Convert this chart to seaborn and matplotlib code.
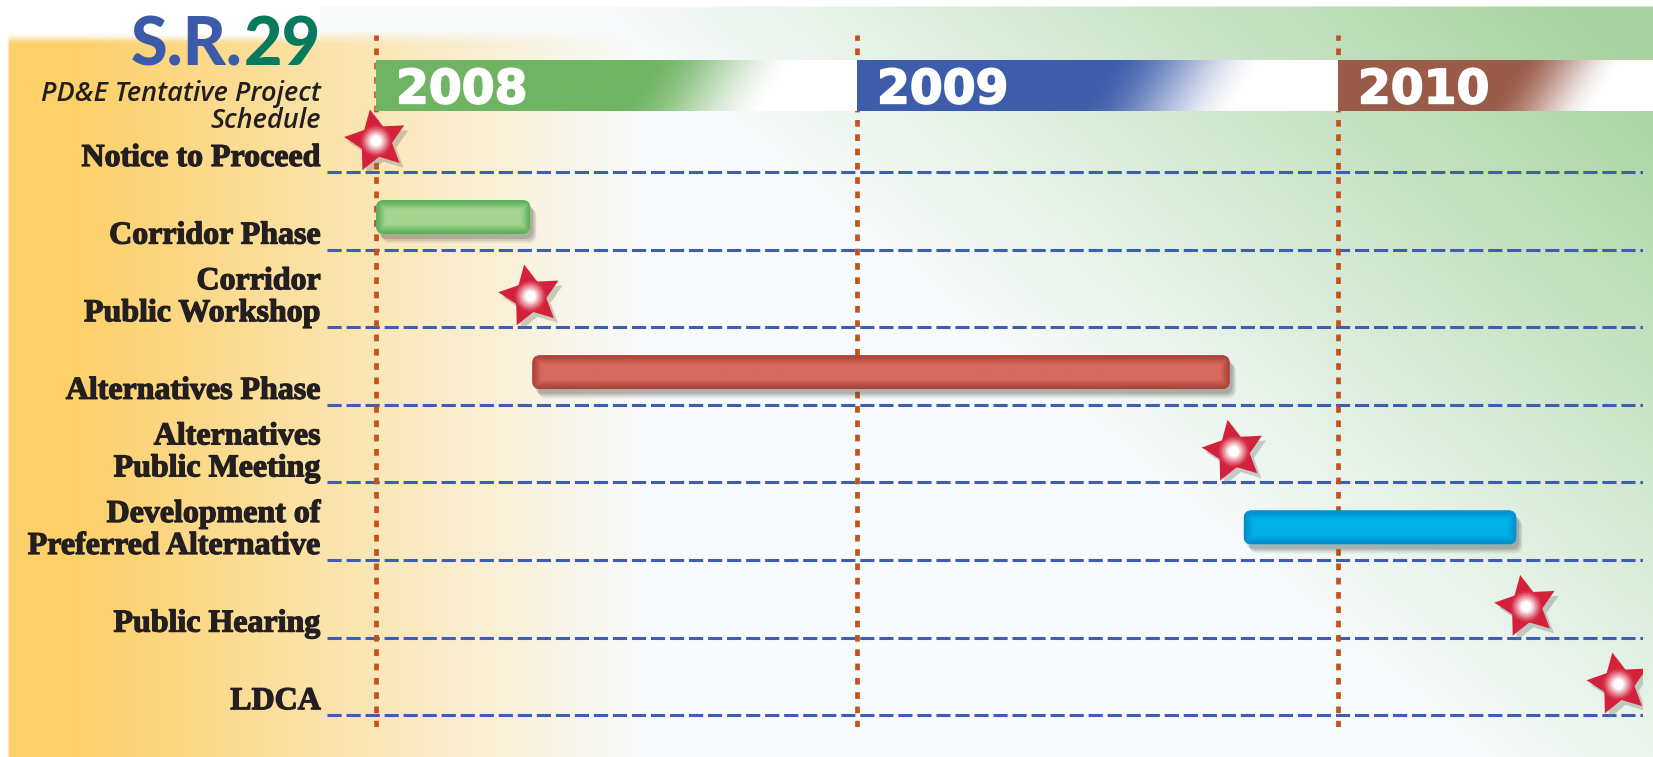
import numpy as np
import pandas as pd
import matplotlib
matplotlib.use("Agg")
import matplotlib.pyplot as plt
import seaborn as sns
from matplotlib import font_manager
from matplotlib.patches import FancyBboxPatch
from matplotlib.markers import MarkerStyle
from matplotlib.path import Path
from matplotlib.transforms import Affine2D
from matplotlib import patheffects as pe
from matplotlib.colors import to_rgb

# ---------------- data (months after 1 Jan 2008) ----------------
row_labels = ["Notice to Proceed", "Corridor Phase", "Corridor\nPublic Workshop",
              "Alternatives Phase", "Alternatives\nPublic Meeting",
              "Development of\nPreferred Alternative", "Public Hearing", "LDCA"]
phase_rows = [1, 3, 5]
phase_start = [0.0, 3.9, 21.65]
phase_end = [3.85, 21.3, 28.45]
milestone_rows = [0, 2, 4, 6, 7]
milestone_month = [0.0, 3.85, 21.4, 28.7, 31.0]
years = ["2008", "2009", "2010"]
year_start = [0, 12, 24]

# ---------------- layout / style ----------------
W, H = 1653, 757
PXM = 40.08          # pixels per month
PXR = 77.6           # pixels per row
X0 = 376             # pixel x of month 0
R0 = 133.2           # pixel y of row 0 centre
AX_L, AX_R, AX_T, AX_B = 327, 1643, 35, 727

sns.set_theme(style="white")
plt.rcParams['lines.scale_dashes'] = False

avail = {f.name for f in font_manager.fontManager.ttflist}
title_font = 'Lato' if 'Lato' in avail else 'Liberation Sans'
sub_font = 'Open Sans' if 'Open Sans' in avail else 'DejaVu Sans'
label_font = 'Liberation Serif'

fig = plt.figure(figsize=(W / 100, H / 100), dpi=100)


def fig_rect(l, t, r, b):
    return [l / W, 1 - b / H, (r - l) / W, (b - t) / H]


# ---------------- background gradient ----------------
Xg, Yg = np.meshgrid(np.arange(W) + 0.5, np.arange(H) + 0.5)
ramp = lambda v: np.clip(v, 0, 1)
orange = np.array(to_rgb('#fdd06a'))
green = np.array(to_rgb('#a7d29f'))
base = np.array(to_rgb('#f8fbfc'))
o = ramp(1 - (Xg - 80) / 560) * ramp((Yg - 30) / 14)
s = 0.55 * (Xg - 630) / 1000 + 0.45 * (1 - (Yg - 30) / 690)
g = ramp((s - 0.44) / 0.55) ** 1.05
img = np.ones((H, W, 3)) * base
img = img * (1 - o[..., None]) + orange * o[..., None]
img = img * (1 - g[..., None]) + green * g[..., None]
m = ramp(Xg - 8) * ramp(Yg - 6) * np.where(Xg < 320, ramp((Yg - 33) / 8), 1.0)
img = 1.0 * (1 - m[..., None]) + img * m[..., None]
bg = fig.add_axes([0, 0, 1, 1], zorder=0)
bg.imshow(img, extent=(0, W, H, 0), aspect='auto', interpolation='bilinear')
bg.set_xlim(0, W)
bg.set_ylim(H, 0)
bg.set_axis_off()

# ---------------- main axes ----------------
ax = fig.add_axes(fig_rect(AX_L, AX_T, AX_R, AX_B), zorder=1)
ax.patch.set_alpha(0)
xmin, xmax = (AX_L - X0) / PXM, (AX_R - X0) / PXM
ytop, ybot = (AX_T - R0) / PXR, (AX_B - R0) / PXR

for k in range(len(row_labels)):
    ax.axhline(k + 0.5, color='#3e5eb3', lw=2.2, dashes=(10.2, 3.5), zorder=1)
for mth in year_start:
    ax.axvline(mth, color='#c2531e', lw=3.4, dashes=(4.8, 5.5), zorder=1)

# bars (rounded, gradient filled, with drop shadow)
asp = PXM / PXR
rad = 8 / PXM
bar_h = 34 / PXR
bar_off = 0.08
bar_cols = [("#5aaf5b", "#a6d590"), ("#a9443a", "#d8695e"), ("#008fcb", "#02b2ea")]


def bar_image(w_px, h_px, edge, centre):
    nx, ny = max(int(round(w_px)), 2), max(int(round(h_px)), 2)
    xs = np.arange(nx) + 0.5
    ys = np.arange(ny) + 0.5
    dx = np.minimum(xs, nx - xs)[None, :]
    dy = np.minimum(ys, ny - ys)[:, None]
    d = np.minimum(dx, dy)
    t = np.clip(d / 11, 0, 1)
    t = t * t * (3 - 2 * t)
    e = np.array(to_rgb(edge))
    c = np.array(to_rgb(centre))
    return e + (c - e) * t[..., None]


for r, x0, x1, (ec, cc) in zip(phase_rows, phase_start, phase_end, bar_cols):
    yc = r + bar_off
    w = x1 - x0
    for (ox, oy, al) in [(6, 9, 0.10), (5, 7, 0.15), (3, 5, 0.22)]:
        sh = FancyBboxPatch((x0 + ox / PXM, yc - bar_h / 2 + oy / PXR), w, bar_h,
                            boxstyle=f"round,pad=0,rounding_size={rad}", mutation_aspect=asp,
                            facecolor='#4a4a4a', edgecolor='none', alpha=al, zorder=2)
        ax.add_patch(sh)
    p = FancyBboxPatch((x0, yc - bar_h / 2), w, bar_h,
                       boxstyle=f"round,pad=0,rounding_size={rad}", mutation_aspect=asp,
                       facecolor=cc, edgecolor='none', zorder=3)
    ax.add_patch(p)
    im = ax.imshow(bar_image(w * PXM, bar_h * PXR, ec, cc),
                   extent=(x0, x1, yc + bar_h / 2, yc - bar_h / 2),
                   aspect='auto', interpolation='bilinear', zorder=3.5)
    im.set_clip_path(p)

# milestone stars
star_off = 0.1
df_m = pd.DataFrame({'month': milestone_month, 'row': milestone_rows})
df_m['y'] = df_m['row'] + star_off
star_path = Path.unit_regular_star(5, 0.5)
star = MarkerStyle(star_path, transform=Affine2D().rotate_deg(11))
S = 2150
sns.scatterplot(data=df_m, x='month', y='y', marker=star, s=S, color='#d4213b',
                edgecolor='none', linewidth=0, legend=False, ax=ax, zorder=6)
ax.collections[-1].set_path_effects([
    pe.SimplePatchShadow(offset=(3, -3.5), shadow_rgbFace='#777777', alpha=0.35), pe.Normal()])
red = np.array(to_rgb('#d4213b'))
for f in [0.5, 0.44, 0.38, 0.33, 0.28, 0.24, 0.2, 0.16, 0.12, 0.08]:
    t = np.clip((0.52 - f) / 0.36, 0, 1) ** 1.1
    col = red * (1 - t) + np.ones(3) * t
    ax.scatter(df_m['month'], df_m['y'], marker='o', s=S * f * f, color=col,
               edgecolor='none', linewidth=0, zorder=7)

ax.set_xlim(xmin, xmax)
ax.set_ylim(ybot, ytop)
ax.set_axis_off()

# ---------------- year header ----------------
HX_T, HX_B = 60, 111
hxmax = (W - X0) / PXM
hx = fig.add_axes(fig_rect(AX_L, HX_T, W, HX_B), zorder=2)
hx.set_xlim(xmin, hxmax)
hx.set_ylim(0, 1)
hx.set_axis_off()
hx.axvspan(0, hxmax, color='white', zorder=0)
band_cols = ['#6fb463', '#3d5dab', '#9a5b48']
band_fade = [(6.4, 10.2), (5.9, 9.9), (4.1, 6.8)]
for ys, yr, bc, (a, b) in zip(year_start, years, band_cols, band_fade):
    x_end = ys + b + 0.8
    xx = np.linspace(ys, x_end, 500)[None, :] - ys
    yy = np.linspace(0, 1, 40)[:, None]
    shift = (yy - 0.5) * 0.8
    al = np.clip(1 - (xx - (a + shift)) / (b - a), 0, 1)
    al = al * al * (3 - 2 * al)
    rgba = np.zeros((40, 500, 4))
    rgba[..., :3] = to_rgb(bc)
    rgba[..., 3] = al
    hx.imshow(rgba, extent=(ys, x_end, 0, 1), origin='lower', aspect='auto',
              interpolation='bilinear', zorder=1)
    hx.text(ys + 0.5, 0.15, yr, color='white', fontsize=34, fontweight='bold',
            family='DejaVu Sans', ha='left', va='baseline', zorder=2,
            path_effects=[pe.withStroke(linewidth=1.2, foreground='white')])
hx.set_xlim(xmin, hxmax)
hx.set_ylim(0, 1)

# ---------------- row labels ----------------
lab_fx = [pe.withStroke(linewidth=0.9, foreground='#231f20')]
for k, lab in enumerate(row_labels):
    y_line = ax.transData.transform((0, k + 0.5))[1]
    lines = lab.split('\n')
    for i, ln in enumerate(reversed(lines)):
        fig.text(321 / W, (y_line + 6 + 32 * i) / H, ln, ha='right', va='baseline',
                 fontsize=23, fontweight='bold', family=label_font, color='#231f20',
                 path_effects=lab_fx)

# ---------------- title ----------------
renderer = fig.canvas.get_renderer()
t29 = fig.text(321 / W, 1 - 65 / H, "29", ha='right', va='baseline', fontsize=48,
               fontweight='black', family=title_font, color='#087a5d')
bb = t29.get_window_extent(renderer)
fig.text((bb.x0 - 1) / W, 1 - 65 / H, "S.R.", ha='right', va='baseline', fontsize=48,
         fontweight='black', family=title_font, color='#3b5ba9')
fig.text(321 / W, 1 - 101 / H, "PD&E Tentative Project", ha='right', va='baseline',
         fontsize=19.5, style='italic', fontweight='semibold', family=sub_font, color='#231f20')
fig.text(321 / W, 1 - 128 / H, "Schedule", ha='right', va='baseline',
         fontsize=19.5, style='italic', fontweight='semibold', family=sub_font, color='#231f20')

fig.savefig("out.png", dpi=100)
